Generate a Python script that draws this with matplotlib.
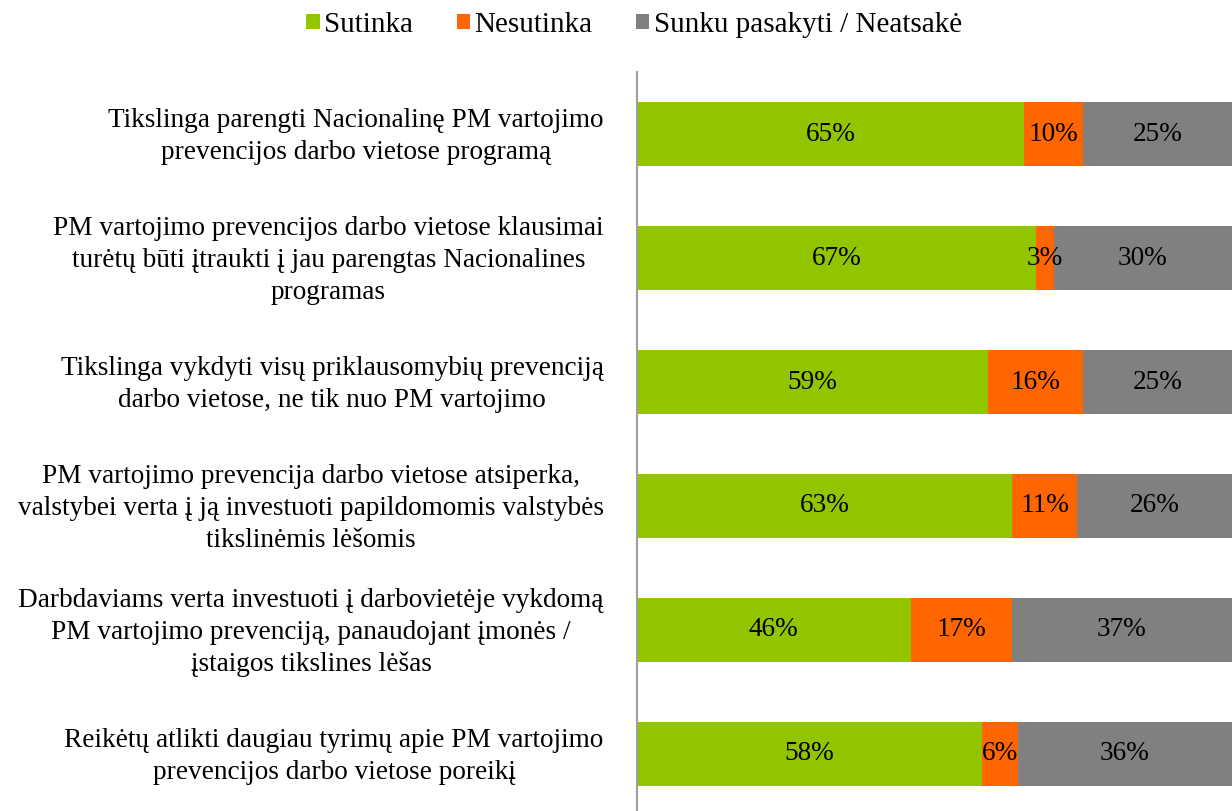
import matplotlib.pyplot as plt
import matplotlib.transforms as mtransforms
from matplotlib.patches import Patch

# Survey statements (top to bottom) and answer shares
statements = [
    "Tikslinga parengti Nacionalinę PM vartojimo\nprevencijos darbo vietose programą",
    "PM vartojimo prevencijos darbo vietose klausimai\nturėtų būti įtraukti į jau parengtas Nacionalines\nprogramas",
    "Tikslinga vykdyti visų priklausomybių prevenciją\ndarbo vietose, ne tik nuo PM vartojimo",
    "PM vartojimo prevencija darbo vietose atsiperka,\nvalstybei verta į ją investuoti papildomomis valstybės\ntikslinėmis lėšomis",
    "Darbdaviams verta investuoti į darbovietėje vykdomą\nPM vartojimo prevenciją, panaudojant įmonės /\nįstaigos tikslines lėšas",
    "Reikėtų atlikti daugiau tyrimų apie PM vartojimo\nprevencijos darbo vietose poreikį",
]
agree = [65, 67, 59, 63, 46, 58]
disagree = [10, 3, 16, 11, 17, 6]
unsure = [25, 30, 25, 26, 37, 36]
series_names = ["Sutinka", "Nesutinka", "Sunku pasakyti / Neatsakė"]

colors = ["#92c400", "#ff6600", "#808080"]
plt.rcParams['font.family'] = ['Liberation Serif', 'DejaVu Serif']
fs = 19.6

fig = plt.figure(figsize=(12.32, 8.11), dpi=100)
ax = fig.add_axes([637 / 1232, -5 / 811, 595 / 1232, 744 / 811])

y = list(range(len(statements)))
left = [0] * len(statements)
for vals, col in zip([agree, disagree, unsure], colors):
    bars = ax.barh(y, vals, left=left, height=0.51, color=col, edgecolor='none')
    for b, v in zip(bars, vals):
        ax.text(b.get_x() + b.get_width() / 2, b.get_y() + b.get_height() / 2,
                f"{v}%", ha='center', va='center', fontsize=fs, color='black')
    left = [l + v for l, v in zip(left, vals)]

ax.set_xlim(0, 100)
ax.set_ylim(len(statements) - 0.5, -0.5)
ax.set_yticks(y)
ax.set_yticklabels(statements, fontsize=fs, ha='right', multialignment='center',
                   linespacing=1.36)
ax.tick_params(axis='y', length=0, pad=24)
ax.tick_params(axis='x', bottom=False, labelbottom=False)
# nudge the category labels up a little
shift = mtransforms.ScaledTranslation(0, 3 / 72, fig.dpi_scale_trans)
for lbl in ax.get_yticklabels():
    lbl.set_transform(lbl.get_transform() + shift)
for s in ['top', 'right', 'bottom']:
    ax.spines[s].set_visible(False)
ax.spines['left'].set_color('#a0a0a0')
ax.spines['left'].set_linewidth(1.5)

handles = [Patch(facecolor=c, edgecolor='none') for c in colors]
fig.legend(handles, series_names, loc='center', bbox_to_anchor=(634 / 1232, 1 - 25 / 811),
           ncol=3, frameon=False, fontsize=21, handlelength=0.45, handleheight=0.45,
           handletextpad=0.15, columnspacing=1.5)

fig.savefig("out.png", dpi=100)
